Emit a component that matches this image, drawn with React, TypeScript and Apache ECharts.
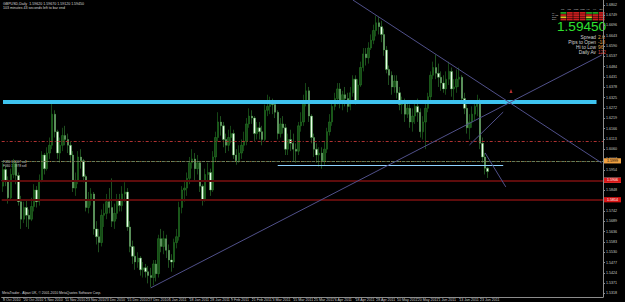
import React, { useEffect, useRef } from 'react';
import * as echarts from 'echarts';

const FONT = 'Liberation Sans, Arial, sans-serif';

const firstBarDate = '2010-10-08';
const futureSlots = 44;

const opens = [
  1.5870, 1.5955, 1.5900, 1.5810, 1.5930, 1.5985, 1.5925, 1.5790, 1.5700, 1.5760,
  1.5720, 1.5700, 1.5765, 1.5850, 1.5790, 1.5900, 1.6030, 1.5960, 1.6040, 1.6080,
  1.6240, 1.6150, 1.6040, 1.6080, 1.6130, 1.6110, 1.6080, 1.6030, 1.5860, 1.5900,
  1.6020, 1.6000, 1.5920, 1.5760, 1.5800, 1.5830, 1.5650, 1.5610, 1.5580, 1.5720,
  1.5730, 1.5790, 1.5760, 1.5690, 1.5730, 1.5800, 1.5770, 1.5830, 1.5840, 1.5660,
  1.5560, 1.5510, 1.5480, 1.5500, 1.5440, 1.5450, 1.5430, 1.5410, 1.5400, 1.5470,
  1.5420, 1.5600, 1.5560, 1.5600, 1.5540, 1.5490, 1.5480, 1.5580, 1.5610, 1.5760,
  1.5850, 1.5860, 1.5910, 1.5990, 1.6010, 1.5960, 1.5990, 1.5870, 1.5800, 1.5930,
  1.5940, 1.5850, 1.6020, 1.6120, 1.6200, 1.6180, 1.6110, 1.6080, 1.6120, 1.6140,
  1.6030, 1.6000, 1.6040, 1.6080, 1.6100, 1.6190, 1.6230, 1.6220, 1.6140, 1.6170,
  1.6150, 1.6110, 1.6260, 1.6280, 1.6300, 1.6290, 1.6250, 1.6140, 1.6190, 1.6170,
  1.6060, 1.6110, 1.6090, 1.6060, 1.6050, 1.6180, 1.6200, 1.6310, 1.6360, 1.6230,
  1.6120, 1.6060, 1.6030, 1.6040, 1.6000, 1.6060, 1.6150, 1.6200, 1.6280, 1.6320,
  1.6370, 1.6300, 1.6340, 1.6320, 1.6280, 1.6350, 1.6420, 1.6310, 1.6390, 1.6480,
  1.6550, 1.6530, 1.6580, 1.6620, 1.6670, 1.6710, 1.6690, 1.6650, 1.6570, 1.6470,
  1.6440, 1.6380, 1.6410, 1.6350, 1.6290, 1.6300, 1.6240, 1.6270, 1.6200, 1.6230,
  1.6280, 1.6250, 1.6150, 1.6200, 1.6270, 1.6330, 1.6440, 1.6480, 1.6450, 1.6430,
  1.6400, 1.6370, 1.6420, 1.6460, 1.6370, 1.6380, 1.6420, 1.6430, 1.6320, 1.6270,
  1.6170, 1.6200, 1.6240, 1.6280, 1.6310, 1.6090, 1.6020, 1.5962,
];

const closes = [
  1.5955, 1.5900, 1.5810, 1.5930, 1.5985, 1.5925, 1.5790, 1.5700, 1.5760, 1.5720,
  1.5700, 1.5765, 1.5850, 1.5790, 1.5900, 1.6030, 1.5960, 1.6040, 1.6080, 1.6240,
  1.6150, 1.6040, 1.6080, 1.6130, 1.6110, 1.6080, 1.6030, 1.5860, 1.5900, 1.6020,
  1.6000, 1.5920, 1.5760, 1.5800, 1.5830, 1.5650, 1.5610, 1.5580, 1.5720, 1.5730,
  1.5790, 1.5760, 1.5690, 1.5730, 1.5800, 1.5770, 1.5830, 1.5840, 1.5660, 1.5560,
  1.5510, 1.5480, 1.5500, 1.5440, 1.5450, 1.5430, 1.5410, 1.5400, 1.5470, 1.5420,
  1.5600, 1.5560, 1.5600, 1.5540, 1.5490, 1.5480, 1.5580, 1.5610, 1.5760, 1.5850,
  1.5860, 1.5910, 1.5990, 1.6010, 1.5960, 1.5990, 1.5870, 1.5800, 1.5930, 1.5940,
  1.5850, 1.6020, 1.6120, 1.6200, 1.6180, 1.6110, 1.6080, 1.6120, 1.6140, 1.6030,
  1.6000, 1.6040, 1.6080, 1.6100, 1.6190, 1.6230, 1.6220, 1.6140, 1.6170, 1.6150,
  1.6110, 1.6260, 1.6280, 1.6300, 1.6290, 1.6250, 1.6140, 1.6190, 1.6170, 1.6060,
  1.6110, 1.6090, 1.6060, 1.6050, 1.6180, 1.6200, 1.6310, 1.6360, 1.6230, 1.6120,
  1.6060, 1.6030, 1.6040, 1.6000, 1.6060, 1.6150, 1.6200, 1.6280, 1.6320, 1.6370,
  1.6300, 1.6340, 1.6320, 1.6280, 1.6350, 1.6420, 1.6310, 1.6390, 1.6480, 1.6550,
  1.6530, 1.6580, 1.6620, 1.6670, 1.6710, 1.6690, 1.6650, 1.6570, 1.6470, 1.6440,
  1.6380, 1.6410, 1.6350, 1.6290, 1.6300, 1.6240, 1.6270, 1.6200, 1.6230, 1.6280,
  1.6250, 1.6150, 1.6200, 1.6270, 1.6330, 1.6440, 1.6480, 1.6450, 1.6430, 1.6400,
  1.6370, 1.6420, 1.6460, 1.6370, 1.6380, 1.6420, 1.6430, 1.6320, 1.6270, 1.6170,
  1.6200, 1.6240, 1.6280, 1.6310, 1.6090, 1.6020, 1.5962, 1.5945,
];

const highs = [
  1.5990, 1.5975, 1.5920, 1.5960, 1.6010, 1.6000, 1.5940, 1.5820, 1.5790, 1.5800,
  1.5750, 1.5810, 1.5880, 1.5870, 1.5930, 1.6050, 1.6040, 1.6070, 1.6120, 1.6298,
  1.6260, 1.6160, 1.6120, 1.6170, 1.6180, 1.6140, 1.6100, 1.6050, 1.5940, 1.6050,
  1.6060, 1.6010, 1.5930, 1.5840, 1.5860, 1.5840, 1.5690, 1.5650, 1.5750, 1.5780,
  1.5830, 1.5860, 1.5910, 1.5780, 1.5830, 1.5830, 1.5870, 1.5890, 1.5860, 1.5690,
  1.5590, 1.5560, 1.5530, 1.5510, 1.5480, 1.5470, 1.5460, 1.5450, 1.5490, 1.5490,
  1.5620, 1.5650, 1.5640, 1.5620, 1.5570, 1.5520, 1.5600, 1.5650, 1.5790, 1.5870,
  1.5900, 1.5940, 1.6020, 1.6060, 1.6040, 1.6030, 1.6000, 1.5880, 1.5960, 1.5990,
  1.5960, 1.6050, 1.6150, 1.6250, 1.6230, 1.6200, 1.6140, 1.6160, 1.6180, 1.6160,
  1.6060, 1.6080, 1.6110, 1.6150, 1.6220, 1.6270, 1.6260, 1.6230, 1.6200, 1.6200,
  1.6180, 1.6290, 1.6340, 1.6330, 1.6320, 1.6310, 1.6260, 1.6220, 1.6230, 1.6190,
  1.6140, 1.6160, 1.6140, 1.6090, 1.6200, 1.6250, 1.6340, 1.6400, 1.6380, 1.6240,
  1.6140, 1.6090, 1.6070, 1.6070, 1.6100, 1.6170, 1.6240, 1.6310, 1.6350, 1.6400,
  1.6400, 1.6360, 1.6380, 1.6350, 1.6380, 1.6440, 1.6440, 1.6420, 1.6510, 1.6580,
  1.6580, 1.6610, 1.6650, 1.6700, 1.6747, 1.6740, 1.6720, 1.6680, 1.6590, 1.6490,
  1.6460, 1.6440, 1.6440, 1.6380, 1.6330, 1.6320, 1.6310, 1.6290, 1.6270, 1.6310,
  1.6320, 1.6270, 1.6230, 1.6300, 1.6350, 1.6460, 1.6510, 1.6546, 1.6500, 1.6460,
  1.6440, 1.6460, 1.6510, 1.6480, 1.6420, 1.6470, 1.6480, 1.6440, 1.6350, 1.6290,
  1.6240, 1.6280, 1.6310, 1.6340, 1.6320, 1.6120, 1.6040, 1.5967,
];

const lows = [
  1.5840, 1.5870, 1.5780, 1.5800, 1.5910, 1.5880, 1.5770, 1.5650, 1.5680, 1.5660,
  1.5650, 1.5690, 1.5740, 1.5760, 1.5770, 1.5890, 1.5930, 1.5950, 1.6010, 1.6060,
  1.6120, 1.6010, 1.5990, 1.6050, 1.6080, 1.6040, 1.5990, 1.5840, 1.5820, 1.5880,
  1.5960, 1.5890, 1.5740, 1.5730, 1.5770, 1.5620, 1.5570, 1.5530, 1.5560, 1.5660,
  1.5700, 1.5730, 1.5660, 1.5650, 1.5700, 1.5740, 1.5740, 1.5790, 1.5640, 1.5530,
  1.5470, 1.5440, 1.5450, 1.5410, 1.5400, 1.5400, 1.5370, 1.5350, 1.5360, 1.5380,
  1.5400, 1.5530, 1.5520, 1.5500, 1.5450, 1.5430, 1.5450, 1.5550, 1.5590, 1.5730,
  1.5790, 1.5820, 1.5880, 1.5960, 1.5900, 1.5930, 1.5840, 1.5770, 1.5790, 1.5900,
  1.5820, 1.5840, 1.6000, 1.6100, 1.6130, 1.6070, 1.6040, 1.6050, 1.6090, 1.6010,
  1.5980, 1.5990, 1.6010, 1.6050, 1.6080, 1.6170, 1.6190, 1.6100, 1.6110, 1.6110,
  1.6080, 1.6100, 1.6230, 1.6240, 1.6240, 1.6220, 1.6110, 1.6120, 1.6140, 1.6030,
  1.6030, 1.6050, 1.6000, 1.5990, 1.6030, 1.6150, 1.6180, 1.6280, 1.6200, 1.6090,
  1.6020, 1.5990, 1.5970, 1.5960, 1.5980, 1.6040, 1.6130, 1.6180, 1.6260, 1.6290,
  1.6270, 1.6260, 1.6280, 1.6250, 1.6260, 1.6330, 1.6290, 1.6300, 1.6380, 1.6460,
  1.6490, 1.6500, 1.6570, 1.6600, 1.6640, 1.6650, 1.6610, 1.6540, 1.6450, 1.6390,
  1.6340, 1.6350, 1.6320, 1.6260, 1.6240, 1.6200, 1.6220, 1.6170, 1.6150, 1.6190,
  1.6200, 1.6120, 1.6110, 1.6060, 1.6250, 1.6310, 1.6420, 1.6420, 1.6380, 1.6360,
  1.6350, 1.6340, 1.6390, 1.6330, 1.6310, 1.6350, 1.6380, 1.6300, 1.6240, 1.6140,
  1.6110, 1.6170, 1.6210, 1.6230, 1.6060, 1.5990, 1.5930, 1.5912,
];

const dateTickLabels = [
  '8 Oct 2010', '20 Oct 2010', '1 Nov 2010', '11 Nov 2010', '23 Nov 2010', '3 Dec 2010',
  '15 Dec 2010', '27 Dec 2010', '6 Jan 2011', '18 Jan 2011', '28 Jan 2011', '9 Feb 2011',
  '21 Feb 2011', '3 Mar 2011', '15 Mar 2011', '25 Mar 2011', '6 Apr 2011', '18 Apr 2011',
  '28 Apr 2011', '10 May 2011', '20 May 2011', '1 Jun 2011', '13 Jun 2011', '23 Jun 2011',
];

const priceTicks = [
  1.5318, 1.5371, 1.5424, 1.5477, 1.5530, 1.5583, 1.5636, 1.5689, 1.5742, 1.5795,
  1.5848, 1.5901, 1.5954, 1.6007, 1.6060, 1.6113, 1.6166, 1.6219, 1.6272, 1.6325,
  1.6378, 1.6431, 1.6484, 1.6537, 1.6590, 1.6643, 1.6696, 1.6749, 1.6802,
];

const priceMin = 1.53;
const priceMax = 1.6827;

const resistanceLevel = 1.6302;
const levelDashRed = 1.6055;
const levelOrange = 1.5999;
const levelLightBlue = 1.5978;
const levelGreenDash = 1.5963;
const bidPrice = 1.5945;
const levelRed1 = 1.5906;
const levelRed2 = 1.5814;

// trend lines: [startIndex, startPrice, endIndex, endPrice]
const trendLines = [
  [135.3, 1.6827, 231, 1.5989],
  [57, 1.5347, 231, 1.6544],
  [179.5, 1.6082, 193, 1.6251],
  [186, 1.6041, 193.7, 1.5866],
];
const arrowMark = [195.7, 1.6359];

const panelCols = ['M1', 'M5', 'M15', 'M30', 'H1', 'H4', 'D1'];
const panelRows = ['MA', 'MACD', 'STR', 'EMA'];
const panelColors = [
  ['#1fa01f', '#c81e1e', '#c81e1e', '#c81e1e', '#1fa01f', '#1fa01f', '#c81e1e'],
  ['#c81e1e', '#c81e1e', '#c81e1e', '#c81e1e', '#c81e1e', '#c81e1e', '#c81e1e'],
  ['#e0c020', '#c81e1e', '#c81e1e', '#c81e1e', '#e0c020', '#c81e1e', '#c81e1e'],
  ['#c81e1e', '#c81e1e', '#c81e1e', '#c81e1e', '#1fa01f', '#c81e1e', '#c81e1e'],
];
const infoLabels = ['Spread', 'Pips to Open', 'Hi to Low', 'Daily Av'];
const infoValues = ['2.6', '-18', '96', '122'];
const infoColors = ['#e8a040', '#e8a040', '#e8a040', '#e04848'];

const MONTHS = ['Jan', 'Feb', 'Mar', 'Apr', 'May', 'Jun', 'Jul', 'Aug', 'Sep', 'Oct', 'Nov', 'Dec'];

function buildDates(count: number): string[] {
  const out: string[] = [];
  const d = new Date(firstBarDate + 'T00:00:00Z');
  while (out.length < count) {
    const wd = d.getUTCDay();
    if (wd !== 0 && wd !== 6) {
      out.push(`${d.getUTCDate()} ${MONTHS[d.getUTCMonth()]} ${d.getUTCFullYear()}`);
    }
    d.setUTCDate(d.getUTCDate() + 1);
  }
  return out;
}

export default function App() {
  const ref = useRef<HTMLDivElement>(null);
  useEffect(() => {
    document.body.style.margin = '0';
    document.body.style.background = '#000';
    const chart = echarts.init(ref.current!, null, { renderer: 'svg' });
    const dates = buildDates(closes.length + futureSlots);
    const labelSet = new Set(dateTickLabels);
    const candleData = closes.map((c, i) => [opens[i], c, lows[i], highs[i]]);

    const axisBox = (value: number, bg: string, fg: string) => ({
      show: true,
      position: 'end',
      formatter: value.toFixed(4),
      backgroundColor: bg,
      color: fg,
      fontSize: 3.6,
      fontFamily: FONT,
      padding: [0.6, 3, 0.6, 3],
      distance: 1,
    });

    const markLineData: any[] = [
      {
        yAxis: levelDashRed,
        lineStyle: { color: '#b03232', width: 1, type: [3, 2, 1, 2] },
        label: { show: false },
      },
      {
        yAxis: levelOrange,
        lineStyle: { color: '#c0823a', width: 1.2, type: [1, 1.2] },
        label: axisBox(levelOrange, '#f0a040', '#000'),
      },
      [
        { coord: [106, levelLightBlue], lineStyle: { color: '#8fd3ff', width: 1, type: 'solid' }, label: { show: false } },
        { coord: [193, levelLightBlue] },
      ],
      {
        yAxis: levelGreenDash,
        lineStyle: { color: '#5d7d5d', width: 1, type: [3, 2] },
        label: { show: false },
      },
      {
        yAxis: bidPrice,
        lineStyle: { color: '#9a9a9a', width: 1, type: 'solid' },
        label: axisBox(bidPrice, '#ffffff', '#000'),
      },
      {
        yAxis: levelRed1,
        lineStyle: { color: '#5e0c0c', width: 2, type: 'solid' },
        label: axisBox(levelRed1, '#d81414', '#fff'),
      },
      {
        yAxis: levelRed2,
        lineStyle: { color: '#5e0c0c', width: 2, type: 'solid' },
        label: axisBox(levelRed2, '#d81414', '#fff'),
      },
      [
        { coord: [-0.5, resistanceLevel], lineStyle: { color: '#3ec3ef', width: 4, type: 'solid' }, label: { show: false } },
        { coord: [229, resistanceLevel] },
      ],
      ...trendLines.map((t) => [
        { coord: [t[0], t[1]], lineStyle: { color: '#50508a', width: 1, type: 'solid' }, label: { show: false } },
        { coord: [t[2], t[3]] },
      ]),
    ];

    const graphics: any[] = [
      {
        type: 'text', left: 3, top: 1.5,
        style: { text: 'GBPUSD,Daily  1.59620 1.59670 1.59120 1.59450', fill: '#d8d8d8', fontSize: 3.6, fontFamily: FONT },
      },
      {
        type: 'text', left: 3, top: 5.5,
        style: { text: '103 minutes 43 seconds left to bar end', fill: '#d8d8d8', fontSize: 3.6, fontFamily: FONT },
      },
      {
        type: 'text', left: 2, top: 291,
        style: { text: 'MetaTrader - Alpari UK, \u00a9 2001-2010 MetaQuotes Software Corp.', fill: '#d8d8d8', fontSize: 3.4, fontFamily: FONT },
      },
      {
        type: 'text', left: 3, top: 160.5,
        style: { text: 'F080 1.6007 sell', fill: '#d8d8d8', fontSize: 3.2, fontFamily: FONT },
      },
      {
        type: 'text', left: 3, top: 164,
        style: { text: 'F060 1.5978 sell', fill: '#d8d8d8', fontSize: 3.2, fontFamily: FONT },
      },
      {
        type: 'text', left: 557, top: 19,
        style: { text: '1.59450', fill: '#2fe02f', fontSize: 13.6, fontFamily: FONT },
      },
    ];
    panelCols.forEach((c, ci) => {
      graphics.push({
        type: 'text', left: 561 + ci * 6.4, top: 8,
        style: { text: c, fill: '#cfcfcf', fontSize: 2.4, fontFamily: FONT },
      });
    });
    panelRows.forEach((r, ri) => {
      graphics.push({
        type: 'text', left: 552, top: 11.8 + ri * 2.2,
        style: { text: r, fill: '#cfcfcf', fontSize: 2.2, fontFamily: FONT },
      });
      panelColors[ri].forEach((col, ci) => {
        graphics.push({
          type: 'rect',
          shape: { x: 560.5 + ci * 6.4, y: 12 + ri * 2.2, width: 5.8, height: 1.8 },
          style: { fill: col },
        });
      });
    });
    infoLabels.forEach((t, i) => {
      graphics.push({
        type: 'text', x: 596, y: 37 + i * 5,
        style: { text: t, fill: '#d0d0d0', fontSize: 4.8, fontFamily: FONT, align: 'right', verticalAlign: 'middle' },
      });
      graphics.push({
        type: 'text', x: 598, y: 37 + i * 5,
        style: { text: infoValues[i], fill: infoColors[i], fontSize: 4.8, fontFamily: FONT, align: 'left', verticalAlign: 'middle' },
      });
    });

    const option: any = {
      animation: false,
      backgroundColor: '#000000',
      grid: { left: 0, right: 22, top: 0, bottom: 5, containLabel: false },
      xAxis: {
        type: 'category',
        data: dates,
        boundaryGap: true,
        axisLine: { show: true, lineStyle: { color: '#8c8c8c', width: 1 } },
        axisTick: {
          show: true,
          interval: (_i: number, v: string) => labelSet.has(v),
          length: 1.5,
          lineStyle: { color: '#8c8c8c' },
          alignWithLabel: true,
        },
        axisLabel: {
          interval: (_i: number, v: string) => labelSet.has(v),
          fontSize: 3.6,
          color: '#cccccc',
          margin: 1,
          align: 'left',
          fontFamily: FONT,
          hideOverlap: false,
        },
        splitLine: { show: false },
      },
      yAxis: {
        type: 'value',
        position: 'right',
        min: priceMin,
        max: priceMax,
        axisLine: { show: true, lineStyle: { color: '#8c8c8c', width: 1 } },
        axisTick: { show: true, customValues: priceTicks, length: 2, lineStyle: { color: '#8c8c8c' } },
        axisLabel: {
          customValues: priceTicks,
          formatter: (v: number) => v.toFixed(4),
          fontSize: 3.6,
          color: '#cccccc',
          margin: 3,
          fontFamily: FONT,
          showMinLabel: true,
          showMaxLabel: true,
        },
        splitLine: { show: false },
      },
      series: [
        {
          type: 'candlestick',
          data: candleData,
          barWidth: 1.9,
          itemStyle: {
            color: '#174a17',
            color0: '#eafeea',
            borderColor: '#2a8a2a',
            borderColor0: '#3f9f3f',
            borderWidth: 0.5,
          },
          markLine: {
            silent: true,
            symbol: ['none', 'none'],
            animation: false,
            data: markLineData,
          },
          markPoint: {
            silent: true,
            animation: false,
            data: [
              {
                coord: arrowMark,
                symbol: 'triangle',
                symbolSize: [3, 4],
                itemStyle: { color: '#b83030' },
                label: { show: false },
              },
            ],
          },
        },
      ],
      graphic: graphics,
    };
    chart.setOption(option);
    return () => chart.dispose();
  }, []);
  return (
    <div
      ref={ref}
      style={{ position: 'absolute', left: 0, top: 0, width: 625, height: 302, background: '#000' }}
    />
  );
}
